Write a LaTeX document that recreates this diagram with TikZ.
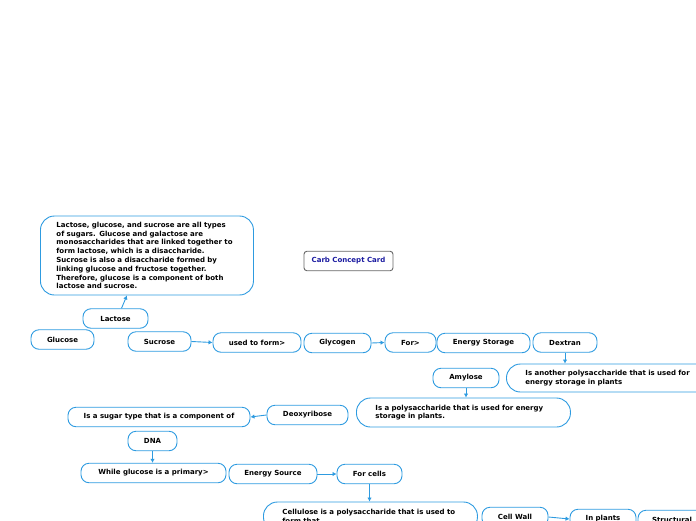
\documentclass[tikz,border=0pt]{standalone}
\usepackage{fontspec}
\setmainfont{DejaVu Sans}
\usetikzlibrary{arrows.meta,positioning}
\usepackage{xcolor}
\definecolor{mapblue}{HTML}{2E9BE0}
\definecolor{titleblue}{HTML}{1A1AA0}
\hyphenpenalty=10000
\hbadness=10000
\hfuzz=20pt

\begin{document}
\begin{tikzpicture}[x=1pt, y=-1pt,
  box/.style={draw=mapblue, line width=0.9pt, rounded corners=8pt, minimum height=19.5pt,
    inner xsep=6pt, align=center, font=\fontsize{7}{8.8}\selectfont\bfseries},
  note/.style={box, rounded corners=14pt, align=left, inner xsep=19pt, anchor=west},
  link/.style={-{Latex[length=4pt,width=4.5pt]}, draw=mapblue, line width=0.9pt}]

\clip (0,0) rectangle (696,520);

% title
\node[box, draw=gray!80!black, rounded corners=3pt, minimum width=89pt, text=titleblue] (title) at (348.5,261) {Carb Concept Card};

% sugars
\node[note, text width=181pt, inner xsep=16pt, minimum height=79pt] (sugars) at (40,255.5) {Lactose, glucose, and sucrose are all types\\of sugars. Glucose and galactose are\\monosaccharides that are linked together to\\form lactose, which is a disaccharide.\\Sucrose is also a disaccharide formed by\\linking glucose and fructose together.\\Therefore, glucose is a component of both\\lactose and sucrose.};
\node[box, minimum width=65pt] (lactose) at (115.5,318.5) {Lactose};
\node[box, minimum width=63pt] (glucose) at (62.5,339.5) {Glucose};
\node[box, minimum width=63pt] (sucrose) at (159.5,341.5) {Sucrose};
\node[box, minimum width=88pt] (usedto) at (257,342.5) {used to form>};

% storage row
\node[box, minimum width=67pt] (glycogen) at (337.5,343) {Glycogen};
\node[box, minimum width=51pt] (forstor) at (410.5,342.5) {For>};
\node[box, minimum width=93pt] (storage) at (483.5,343) {Energy Storage};
\node[box, minimum width=64pt] (dextran) at (565,342.5) {Dextran};
\node[note, text width=180pt, minimum height=28pt] (another) at (506,378) {Is another polysaccharide that is used for\\energy storage in plants};
\node[box, minimum width=66pt] (amylose) at (466,378) {Amylose};
\node[note, text width=176pt, minimum height=29pt] (amydesc) at (356,412.5) {Is a polysaccharide that is used for energy\\storage in plants.};

% deoxyribose
\node[box, minimum width=81pt] (deoxy) at (307.5,415) {Deoxyribose};
\node[box, minimum width=182pt] (sugartype) at (159,417) {Is a sugar type that is a component of};
\node[box, minimum width=49pt] (dna) at (152.5,441) {DNA};

% energy source
\node[box, minimum width=145pt] (primary) at (153.5,473) {While glucose is a primary>};
\node[box, minimum width=88pt] (esource) at (273,474) {Energy Source};
\node[box, minimum width=65pt] (forcells) at (369.5,474) {For cells};

% cellulose
\node[note, text width=176pt, minimum height=29pt] (cellulose) at (263,516.5) {Cellulose is a polysaccharide that is used to\\form that};
\node[box, minimum width=66pt] (cellwall) at (515,517) {Cell Wall};
\node[box, minimum width=66pt] (inplants) at (603,519) {In plants};
\node[box, minimum width=68pt] (structural) at (672,520) {Structural};

\draw[link] ([xshift=6pt]lactose.north) -- ([xshift=-20pt]sugars.south);
\draw[link] (sucrose.east) -- (usedto.west);
\draw[link] (glycogen.east) -- (forstor.west);
\draw[link] (dextran.south) -- (dextran.south |- another.north);
\draw[link] (amylose.south) -- (amylose.south |- amydesc.north);
\draw[link] (deoxy.west) -- (sugartype.east);
\draw[link] (dna.south) -- (dna.south |- primary.north);
\draw[link] (esource.east) -- (forcells.west);
\draw[link] (forcells.south) -- (forcells.south |- cellulose.north);
\draw[link] (cellwall.east) -- (inplants.west);

\end{tikzpicture}
\end{document}
